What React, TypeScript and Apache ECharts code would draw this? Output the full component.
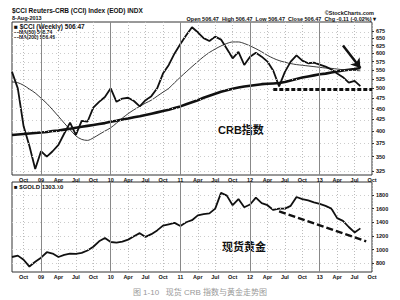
import React, { useEffect, useRef } from "react";
import * as echarts from "echarts";

// Monthly categories: Aug 2008 .. Oct 2013
const startYear = 2008;
const startMonth = 8;
const monthCount = 63;
const months: string[] = Array.from({ length: monthCount }, (_, k) => {
  const m = startMonth - 1 + k;
  const y = startYear + Math.floor(m / 12);
  const mm = (m % 12) + 1;
  return `${y}-${String(mm).padStart(2, "0")}`;
});

// $CCI weekly (read as monthly values)
const crb: (number | null)[] = [
  545, 500, 410, 370, 328, 360, 350, 360, 372, 395, 418, 392, 422, 420, 452, 466, 478,
  500, 466, 474, 476, 468, 455, 470, 480, 500, 540, 565, 600, 630, 660, 688, 670, 650,
  640, 655, 645, 615, 585, 605, 565, 590, 602, 590, 575, 548, 505, 545, 575, 594, 578,
  570, 572, 566, 560, 552, 540, 530, 515, 520, 506, null, null,
];
const ma50: (number | null)[] = [
  517, 515, 508, 498, 488, 475, 462, 447, 432, 417, 403, 390, 383, 381, 386, 393, 400,
  407, 417, 428, 438, 447, 455, 463, 470, 480, 490, 500, 515, 530, 545, 560, 575, 590,
  603, 614, 624, 632, 637, 637, 632, 624, 615, 605, 594, 585, 578, 573, 569, 566, 564,
  562, 560, 558, 556, 555, 553, 551, 550, 549, 548, null, null,
];
const ma200: (number | null)[] = [
  392, 393, 394, 395, 396, 397, 398, 400, 401, 403, 405, 407, 409, 411, 413, 415, 417,
  420, 422, 425, 427, 430, 432, 435, 438, 441, 444, 447, 451, 455, 460, 465, 470, 476,
  481, 486, 491, 495, 499, 502, 505, 507, 509, 511, 512, 513, 514, 517, 521, 525, 529,
  532, 535, 538, 540, 543, 546, 549, 551, 553, 556, null, null,
];
// $GOLD
const gold: (number | null)[] = [
  890, 910, 850, 750, 820, 880, 960, 940, 890, 920, 940, 935, 950, 985, 1040, 1120, 1170,
  1110, 1100, 1115, 1145, 1195, 1240, 1185, 1225, 1280, 1350, 1370, 1390, 1345, 1400,
  1430, 1500, 1520, 1530, 1600, 1830, 1790, 1650, 1740, 1620, 1660, 1760, 1680, 1650,
  1580, 1600, 1600, 1640, 1770, 1740, 1720, 1690, 1670, 1640, 1600, 1460, 1420, 1330,
  1250, 1310, null, null,
];

const crbTicks = [325, 350, 375, 400, 425, 450, 475, 500, 525, 550, 575, 600, 625, 650, 675];
const goldTicks = [800, 1000, 1200, 1400, 1600, 1800];
const yearStarts = ["2009-01", "2010-01", "2011-01", "2012-01", "2013-01"];

// annotations
const supportLevel = 498;
const supportFrom = "2012-05";
const supportTo = "2013-10";
const arrowFrom: [string, number] = ["2013-05", 625];
const arrowTo: [string, number] = ["2013-08", 556];
const goldTrendFrom: [string, number] = ["2012-06", 1560];
const goldTrendTo: [string, number] = ["2013-09", 1120];

const FONT = '"Liberation Sans", Arial, sans-serif';
const CJK = '"Liberation Sans", "Noto Sans CJK SC", sans-serif';
const monthNames = ["", "Jan", "Feb", "Mar", "Apr", "May", "Jun", "Jul", "Aug", "Sep", "Oct", "Nov", "Dec"];

const isQuarter = (v: string) => {
  const mm = parseInt(v.slice(5), 10);
  return mm === 1 || mm === 4 || mm === 7 || mm === 10;
};
const fmtMonth = (v: string) => {
  const mm = parseInt(v.slice(5), 10);
  if (!isQuarter(v)) return "";
  return mm === 1 ? v.slice(2, 4) : monthNames[mm];
};

const L = (v: number | null) => (v == null ? null : Math.log(v));

export default function App() {
  const ref = useRef<HTMLDivElement>(null);
  useEffect(() => {
    if (!ref.current) return;
    const chart = echarts.init(ref.current, undefined, { renderer: "svg" });
    const xAxisBase = (gridIndex: number) => ({
      type: "category" as const,
      gridIndex,
      data: months,
      boundaryGap: false,
      axisLine: { show: false },
      axisTick: { show: false },
      axisLabel: {
        interval: (_i: number, v: string) => isQuarter(v),
        formatter: fmtMonth,
        fontSize: 5.5,
        fontWeight: "bold",
        fontFamily: FONT,
        color: "#111",
        margin: 2,
      },
      splitLine: {
        show: true,
        interval: (_i: number, v: string) => isQuarter(v),
        lineStyle: { color: "#bbb", type: [1, 2], width: 1 },
      },
    });
    const gridLinesMark = (vals: number[], xi: number) => ({
      silent: true,
      symbol: "none",
      label: { show: false },
      data: [
        ...vals.map((v) => ({ yAxis: xi === 0 ? Math.log(v) : v, lineStyle: { color: "#ccc", type: [1, 3], width: 1 } })),
        ...yearStarts.map((m) => ({ xAxis: m, lineStyle: { color: "#888", type: "solid", width: 1 } })),
      ],
    });
    chart.setOption({
      animation: false,
      backgroundColor: "#fff",
      grid: [
        { left: 12, top: 22, width: 360, height: 153, show: true, borderColor: "#333", borderWidth: 1, backgroundColor: "transparent" },
        { left: 12, top: 182, width: 360, height: 90, show: true, borderColor: "#333", borderWidth: 1, backgroundColor: "transparent" },
      ],
      xAxis: [xAxisBase(0), xAxisBase(1)],
      yAxis: [
        {
          type: "value",
          gridIndex: 0,
          position: "right",
          min: Math.log(318),
          max: Math.log(707),
          axisLine: { show: false },
          splitLine: { show: false },
          axisTick: { show: true, customValues: crbTicks.map(Math.log), length: 2, lineStyle: { color: "#333" } },
          axisLabel: {
            customValues: crbTicks.map(Math.log),
            formatter: (v: number) => String(Math.round(Math.exp(v))),
            fontSize: 5.5,
            fontWeight: "bold",
            fontFamily: FONT,
            color: "#111",
            margin: 4,
          },
        },
        {
          type: "value",
          gridIndex: 1,
          position: "right",
          min: 670,
          max: 1990,
          axisLine: { show: false },
          splitLine: { show: false },
          axisTick: { show: true, customValues: goldTicks, length: 2, lineStyle: { color: "#333" } },
          axisLabel: {
            customValues: goldTicks,
            formatter: (v: number) => String(Math.round(v)),
            fontSize: 5.5,
            fontWeight: "bold",
            fontFamily: FONT,
            color: "#111",
            margin: 4,
          },
        },
      ],
      series: [
        {
          name: "gridTop",
          type: "line",
          xAxisIndex: 0,
          yAxisIndex: 0,
          data: [],
          markLine: gridLinesMark(crbTicks, 0),
        },
        {
          name: "gridBottom",
          type: "line",
          xAxisIndex: 1,
          yAxisIndex: 1,
          data: [],
          markLine: gridLinesMark(goldTicks, 1),
        },
        {
          name: "MA200",
          type: "line",
          xAxisIndex: 0,
          yAxisIndex: 0,
          data: ma200.map(L),
          symbol: "none",
          lineStyle: { color: "#111", width: 2.6 },
        },
        {
          name: "MA50",
          type: "line",
          xAxisIndex: 0,
          yAxisIndex: 0,
          data: ma50.map(L),
          symbol: "none",
          smooth: 0.3,
          lineStyle: { color: "#222", width: 0.9 },
        },
        {
          name: "$CCI",
          type: "line",
          xAxisIndex: 0,
          yAxisIndex: 0,
          data: crb.map(L),
          symbol: "none",
          lineStyle: { color: "#111", width: 1.8 },
          markLine: {
            silent: true,
            label: { show: false },
            data: [
              [
                { coord: [supportFrom, Math.log(supportLevel)], symbol: "none", lineStyle: { color: "#111", width: 3, type: [4, 2] } },
                { coord: [supportTo, Math.log(supportLevel)], symbol: "none" },
              ],
              [
                { coord: [arrowFrom[0], Math.log(arrowFrom[1])], symbol: "none", lineStyle: { color: "#111", width: 2.5, type: "solid" } },
                { coord: [arrowTo[0], Math.log(arrowTo[1])], symbol: "arrow", symbolSize: 9 },
              ],
            ],
          },
        },
        {
          name: "$GOLD",
          type: "line",
          xAxisIndex: 1,
          yAxisIndex: 1,
          data: gold,
          symbol: "none",
          lineStyle: { color: "#111", width: 1.8 },
          markLine: {
            silent: true,
            symbol: "none",
            label: { show: false },
            data: [
              [
                { coord: goldTrendFrom, lineStyle: { color: "#111", width: 2.5, type: [7, 3] } },
                { coord: goldTrendTo },
              ],
            ],
          },
        },
      ],
      graphic: [
        { type: "text", left: 12, top: 7, style: { text: "$CCI Reuters-CRB (CCI) Index (EOD) INDX", font: `bold 6.5px ${FONT}`, fill: "#111" } },
        { type: "text", left: 12, top: 15, style: { text: "8-Aug-2013", font: `bold 5.5px ${FONT}`, fill: "#111" } },
        { type: "text", right: 26, top: 10, style: { text: "©StockCharts.com", font: `bold 5.5px ${FONT}`, fill: "#111" } },
        { type: "text", right: 24, top: 16, style: { text: "Open 506.47  High 506.47  Low 506.47  Close 506.47  Chg -0.11 (-0.02%) ▾", font: `bold 5.5px ${FONT}`, fill: "#111" } },
        { type: "text", left: 14, top: 23, style: { text: "■ $CCI (Weekly) 506.47", font: `bold 6.5px ${FONT}`, fill: "#111" } },
        { type: "text", left: 14, top: 29, style: { text: "—MA(50) 548.74", font: `bold 5px ${FONT}`, fill: "#111" } },
        { type: "text", left: 14, top: 34, style: { text: "—MA(200) 556.46", font: `bold 5px ${FONT}`, fill: "#111" } },
        { type: "text", left: 14, top: 184, style: { text: "■ $GOLD 1303.10", font: `bold 6px ${FONT}`, fill: "#111" } },
        { type: "text", left: 218, top: 124, style: { text: "CRB指数", font: `bold 11px ${CJK}`, fill: "#111" } },
        { type: "text", left: 222, top: 241, style: { text: "现货黄金", font: `bold 11px ${CJK}`, fill: "#111" } },
        { type: "text", left: "center", top: 288, style: { text: "图 1-10   现货 CRB 指数与黄金走势图", font: `8px ${CJK}`, fill: "#999" } },
      ],
    });
    return () => chart.dispose();
  }, []);
  return (
    <div
      ref={ref}
      style={{ position: "fixed", left: 0, top: 0, width: 400, height: 300, background: "#fff" }}
    />
  );
}
